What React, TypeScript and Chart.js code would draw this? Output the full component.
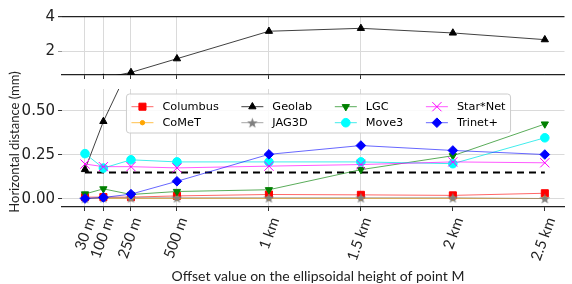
import React, { useEffect, useRef } from 'react';
import { Chart, registerables } from 'chart.js';
import { drawPoint } from 'chart.js/helpers';

Chart.register(...registerables);

// ---- data ----
const tickPositions = [0, 100, 250, 500, 1000, 1500, 2000, 2500];
const tickLabels = ['30 m', '100 m', '250 m', '500 m', '1 km', '1.5 km', '2 km', '2.5 km'];
const seriesNames = ['Columbus', 'CoMeT', 'Geolab', 'JAG3D', 'LGC', 'Move3', 'Star*Net', 'Trinet+'];
const columbus = [0.01, 0.01, 0.01, 0.017, 0.025, 0.023, 0.02, 0.032];
const comet = [0.003, 0.003, 0.003, 0.003, 0.003, 0.003, 0.003, 0.002];
const geolab = [0.167, 0.44, 0.77, 1.57, 3.17, 3.34, 3.07, 2.68];
const jag3d = [0.003, 0.006, 0.006, 0.006, 0.006, 0.006, 0.006, 0.002];
const lgc = [0.028, 0.057, 0.025, 0.042, 0.052, 0.166, 0.245, 0.425];
const move3 = [0.257, 0.175, 0.222, 0.21, 0.21, 0.21, 0.2, 0.347];
const starNet = [0.198, 0.183, 0.183, 0.176, 0.186, 0.195, 0.21, 0.205];
const trinet = [0.002, 0.008, 0.027, 0.1, 0.253, 0.303, 0.275, 0.252];
const thresholdValue = 0.15;
const topYTicks = [2, 4];
const bottomYTicks = [0, 0.25, 0.5];
const seriesValues = [columbus, comet, geolab, jag3d, lgc, move3, starNet, trinet];

// ---- styles ----
const seriesColors = ['#ff0000', '#ffa500', '#000000', '#808080', '#008000', '#00ffff', '#ff00ff', '#0000ff'];
const lineColors = [
  'rgba(255,0,0,0.6)', 'rgba(255,165,0,0.7)', 'rgba(0,0,0,0.75)', 'rgba(128,128,128,0.7)',
  'rgba(0,128,0,0.65)', 'rgba(0,230,230,0.75)', 'rgba(255,0,255,0.65)', 'rgba(0,0,255,0.6)',
];

function makeStar(color: string, size: number) {
  const c = document.createElement('canvas');
  c.width = size;
  c.height = size;
  const g = c.getContext('2d')!;
  g.fillStyle = color;
  g.beginPath();
  const cx = size / 2, cy = size / 2 + 0.5, R = size / 2, r = R * 0.42;
  for (let i = 0; i < 10; i++) {
    const a = -Math.PI / 2 + (i * Math.PI) / 5;
    const rr = i % 2 ? r : R;
    g.lineTo(cx + rr * Math.cos(a), cy + rr * Math.sin(a));
  }
  g.closePath();
  g.fill();
  return c;
}

let starImg: HTMLCanvasElement | null = null;
function markerStyles() {
  if (!starImg) starImg = makeStar('#808080', 11);
  return [
    { pointStyle: 'rect', radius: 5, rotation: 0 },
    { pointStyle: 'circle', radius: 2.2, rotation: 0 },
    { pointStyle: 'triangle', radius: 4.2, rotation: 0 },
    { pointStyle: starImg, radius: 5, rotation: 0 },
    { pointStyle: 'triangle', radius: 4.2, rotation: 180 },
    { pointStyle: 'circle', radius: 4.3, rotation: 0 },
    { pointStyle: 'crossRot', radius: 6.5, rotation: 0 },
    { pointStyle: 'rectRot', radius: 4.8, rotation: 0 },
  ];
}

const X_MIN = -125;
const X_MAX = 2607;

const legendPlugin = {
  id: 'mplLegend',
  afterDraw(chart: any) {
    const ctx = chart.ctx as CanvasRenderingContext2D;
    const area = chart.chartArea;
    const styles = markerStyles();
    const fs = 11.3;
    ctx.save();
    ctx.font = `${fs}px "DejaVu Sans"`;
    const nCols = 4, nRows = 2;
    const handleLen = 22, textPad = 9, colSpace = 22.6, borderPad = 5, rowH = 16;
    const colW: number[] = [];
    for (let c = 0; c < nCols; c++) {
      let m = 0;
      for (let r = 0; r < nRows; r++) {
        const idx = c * nRows + r;
        m = Math.max(m, ctx.measureText(seriesNames[idx]).width);
      }
      colW.push(handleLen + textPad + m);
    }
    const totalW = colW.reduce((a, b) => a + b, 0) + colSpace * (nCols - 1) + borderPad * 2;
    const boxH = 39;
    const cx = (area.left + 575) / 2;
    const bx = cx - totalW / 2;
    const by = area.top + 5;
    ctx.beginPath();
    const rad = 3;
    ctx.moveTo(bx + rad, by);
    ctx.arcTo(bx + totalW, by, bx + totalW, by + boxH, rad);
    ctx.arcTo(bx + totalW, by + boxH, bx, by + boxH, rad);
    ctx.arcTo(bx, by + boxH, bx, by, rad);
    ctx.arcTo(bx, by, bx + totalW, by, rad);
    ctx.closePath();
    ctx.fillStyle = 'rgba(255,255,255,0.85)';
    ctx.fill();
    ctx.strokeStyle = '#cccccc';
    ctx.lineWidth = 1;
    ctx.stroke();

    let x = bx + borderPad;
    for (let c = 0; c < nCols; c++) {
      for (let r = 0; r < nRows; r++) {
        const idx = c * nRows + r;
        const y = by + 12.7 + r * rowH;
        ctx.strokeStyle = lineColors[idx];
        ctx.lineWidth = 1;
        ctx.setLineDash([]);
        ctx.beginPath();
        ctx.moveTo(x, y);
        ctx.lineTo(x + handleLen, y);
        ctx.stroke();
        const st = styles[idx];
        ctx.fillStyle = seriesColors[idx];
        ctx.strokeStyle = seriesColors[idx];
        ctx.lineWidth = 1;
        drawPoint(ctx, { pointStyle: st.pointStyle as any, radius: st.radius, rotation: st.rotation, borderWidth: 1 } as any, x + handleLen / 2, y);
        ctx.fillStyle = '#000';
        ctx.textBaseline = 'middle';
        ctx.textAlign = 'left';
        ctx.font = `${fs}px "DejaVu Sans"`;
        ctx.fillText(seriesNames[idx], x + handleLen + textPad, y + 0.5);
      }
      x += colW[c] + colSpace;
    }
    ctx.restore();
  },
};

const titlesPlugin = {
  id: 'axisTitles',
  afterDraw(chart: any) {
    const ctx = chart.ctx as CanvasRenderingContext2D;
    ctx.save();
    ctx.fillStyle = '#222';
    ctx.font = '13px Lato';
    ctx.textAlign = 'center';
    ctx.textBaseline = 'middle';
    ctx.translate(15, 82);
    ctx.rotate(-Math.PI / 2);
    ctx.fillText('Horizontal distance (mm)', 0, 0);
    ctx.restore();
    ctx.save();
    ctx.fillStyle = '#222';
    ctx.font = '14px Lato';
    ctx.textAlign = 'center';
    ctx.textBaseline = 'alphabetic';
    ctx.fillText('Offset value on the ellipsoidal height of point M', 318, 221);
    ctx.restore();
  },
};

function makeConfig(panel: 'top' | 'bottom') {
  const isTop = panel === 'top';
  const styles = markerStyles();
  const datasets: any[] = seriesNames.map((name, i) => ({
    label: name,
    data: tickPositions.map((x, k) => ({ x, y: seriesValues[i][k] })),
    borderColor: lineColors[i],
    borderWidth: 1,
    backgroundColor: seriesColors[i],
    pointBackgroundColor: seriesColors[i],
    pointBorderColor: seriesColors[i],
    pointBorderWidth: 1,
    pointStyle: styles[i].pointStyle,
    pointRadius: styles[i].radius,
    pointRotation: styles[i].rotation,
    tension: 0,
    order: 10 - i,
  }));
  datasets.push({
    label: 'threshold',
    data: [
      { x: tickPositions[0], y: thresholdValue },
      { x: tickPositions[tickPositions.length - 1], y: thresholdValue },
    ],
    borderColor: '#000',
    borderWidth: 2,
    borderDash: [7, 5],
    pointRadius: 0,
    order: 20,
  });

  const gridLight = '#dadada';

  return {
    type: 'line',
    data: { datasets },
    plugins: isTop ? [] : [legendPlugin, titlesPlugin],
    options: {
      animation: false,
      responsive: false,
      devicePixelRatio: 1,
      events: [],
      layout: { padding: { top: isTop ? 17 : 29, left: 0, right: 0, bottom: 0 } },
      plugins: { legend: { display: false }, tooltip: { enabled: false } },
      scales: {
        x: {
          type: 'linear',
          min: X_MIN,
          max: X_MAX,
          afterBuildTicks: (s: any) => {
            s.ticks = tickPositions.map((v) => ({ value: v }));
          },
          afterFit: (s: any) => {
            s.height = isTop ? 15 : 77;
          },
          ticks: {
            display: !isTop,
            autoSkip: false,
            minRotation: 70,
            maxRotation: 70,
            padding: 4,
            labelOffset: 6,
            color: '#222',
            font: { family: 'Lato', size: 15 },
            callback: (_v: any, i: number) => tickLabels[i],
          },
          grid: {
            color: (c: any) => (c.index < 6 ? gridLight : 'rgba(0,0,0,0)'),
            tickColor: (c: any) => (isTop ? (c.index < 6 ? '#333' : 'rgba(0,0,0,0)') : '#333'),
            tickLength: 4,
            drawTicks: true,
          },
          border: { display: true, color: '#222', width: 1.2 },
        },
        y: {
          type: 'linear',
          min: isTop ? 0.62 : -0.046,
          max: isTop ? 4 : 0.624,
          afterBuildTicks: (s: any) => {
            s.ticks = (isTop ? topYTicks : bottomYTicks).map((v) => ({ value: v }));
          },
          afterFit: (s: any) => {
            s.width = 62;
          },
          ticks: {
            padding: 3,
            color: '#222',
            font: { family: 'DejaVu Sans', size: 15 },
            callback: (v: any) => (isTop ? String(v) : Number(v).toFixed(2)),
          },
          grid: {
            color: (c: any) => (isTop && c.tick && c.tick.value === 4 ? '#222' : gridLight),
            tickColor: (c: any) => (isTop && c.tick && c.tick.value === 2 ? '#999' : '#333'),
            lineWidth: (c: any) => (isTop && c.tick && c.tick.value === 4 ? 1.2 : 1),
            tickLength: 4,
          },
          border: { display: false },
        },
      },
    },
  } as any;
}

export default function App() {
  const topRef = useRef<HTMLCanvasElement>(null);
  const botRef = useRef<HTMLCanvasElement>(null);
  useEffect(() => {
    document.body.style.margin = '0';
    const top = new Chart(topRef.current!, makeConfig('top'));
    const bot = new Chart(botRef.current!, makeConfig('bottom'));
    return () => {
      top.destroy();
      bot.destroy();
    };
  }, []);
  return (
    <div style={{ position: 'relative', width: 572, height: 284, overflow: 'hidden', background: '#fff' }}>
      <canvas ref={topRef} width={572} height={90} style={{ position: 'absolute', left: 0, top: 0, width: 572, height: 90 }} />
      <canvas ref={botRef} width={572} height={224} style={{ position: 'absolute', left: 0, top: 60, width: 572, height: 224 }} />
    </div>
  );
}
